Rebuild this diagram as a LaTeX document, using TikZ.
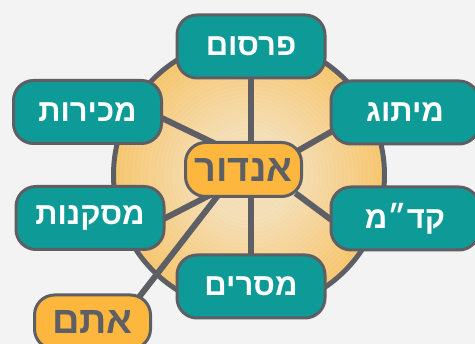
\documentclass[tikz,border=0pt]{standalone}
\usepackage{fontspec}
\newfontfamily\hebfont[Script=Hebrew]{Liberation Sans}
\TeXXeTstate=1
\usetikzlibrary{backgrounds}

\definecolor{tealbox}{HTML}{0E9A96}
\definecolor{ambr}{HTML}{FDB73E}
\definecolor{slate}{HTML}{5E5F65}
\definecolor{paper}{HTML}{F2F3F2}
\definecolor{cream}{HTML}{F4DEB6}
\definecolor{disc}{HTML}{F8B845}
\pgfdeclareradialshading{discshade}{\pgfpoint{0bp}{0bp}}{color(0bp)=(cream); color(8bp)=(cream); color(34bp)=(disc); color(50bp)=(disc)}

\begin{document}
\begin{tikzpicture}[x=1pt, y=-1pt,
      every node/.style={draw=slate, line width=3pt, rounded corners=20pt,
        font=\hebfont\bfseries\fontsize{31}{36}\selectfont},
      spot/.style={fill=tealbox, text=white, minimum width=148pt, minimum height=63pt},
      hubbox/.style={fill=ambr, text=slate, minimum width=116pt, minimum height=54pt,
        font=\hebfont\bfseries\fontsize{38}{44}\selectfont},
      spoke/.style={draw=slate, line width=6pt, shorten <=-8pt, shorten >=-8pt}
    ]
    \useasboundingbox (0,0) rectangle (475,344);
    \coordinate (H) at (249,175);

    % Topics round the hub
    \foreach \i/\x/\y/\t in {1/251/46.5/פרסום, 2/405/112.5/מיתוג, 3/405/218.5/קד״מ,
        4/251/286.5/מסרים, 5/90/218/מסקנות, 6/87.5/112/מכירות} {
      \node[spot] (S\i) at (\x,\y) {\beginR\t\endR};
    }
    \node[hubbox] (C) at (243.5,169.5) {\beginR אנדור\endR};
    \node[hubbox] (Y) at (92.5,322) {\beginR אתם\endR};

    % Disc and spokes behind the boxes
    \begin{pgfonlayer}{background}
      \fill[paper] (0,0) rectangle (475,344);
      \path[shading=discshade] (H) circle[radius=135.5pt];
      \foreach \r in {4,8,...,132} {
        \draw[white, opacity=.08, line width=1pt] (H) circle[radius=\r pt];
      }
      \draw[slate, line width=5pt] (H) circle[radius=135.5pt];
      \draw[spoke] (S1.south) -- (S4.north);
      \draw[spoke] (C.20) -- (S2.195);
      \draw[spoke] (C.-26) -- (S3.west);
      \draw[spoke] (C.216) -- (S5.east);
      \draw[spoke] (C.140) -- (S6.-5);
      \draw[spoke] (C.226) -- (Y.30);
    \end{pgfonlayer}

    \end{tikzpicture}
\end{document}
